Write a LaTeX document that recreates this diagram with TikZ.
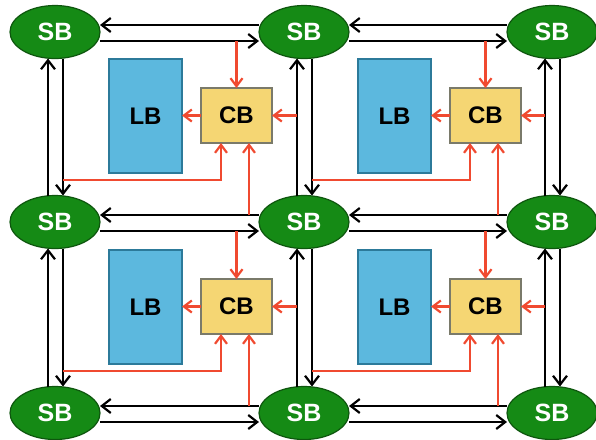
\documentclass[tikz,border=0pt]{standalone}
\usepackage{fontspec}
\setmainfont{Liberation Sans}
\usepackage{xcolor}
\usepackage{tikz}
\usetikzlibrary{arrows.meta,shapes.geometric}
\definecolor{sbgreen}{HTML}{158A15}
\definecolor{sbedge}{HTML}{0E560E}
\definecolor{lbblue}{HTML}{5CB8DE}
\definecolor{lbedge}{HTML}{2C7A9A}
\definecolor{cbyellow}{HTML}{F5D673}
\definecolor{cbedge}{HTML}{7A7A6A}
\definecolor{tapred}{HTML}{F04A30}

\begin{document}
\begin{tikzpicture}[
      x=0.5pt, y=-0.5pt,
      sbnode/.style={ellipse,draw=sbedge,fill=sbgreen,line width=0.6pt,minimum width=45pt,minimum height=26.5pt,inner sep=0pt,outer sep=0pt,text=white,font=\fontsize{12.5}{14}\selectfont\bfseries},
      lbbox/.style={draw=lbedge,fill=lbblue,line width=0.6pt,minimum width=36.5pt,minimum height=57pt,inner sep=0pt,outer sep=0pt,font=\fontsize{12}{14}\selectfont\bfseries},
      cbbox/.style={draw=cbedge,fill=cbyellow,line width=0.6pt,minimum width=35.5pt,minimum height=27.5pt,inner sep=0pt,outer sep=0pt,font=\fontsize{12}{14}\selectfont\bfseries},
      wire/.style={-{Straight Barb[length=4.5pt,width=7pt,line width=1.1pt]}, line width=1.2pt, black},
      tap/.style={-{Straight Barb[length=4pt,width=6pt,line width=1.1pt]}, line width=1.1pt, tapred}
  ]
    \useasboundingbox (0,0) rectangle (596,440);

    % switch boxes
    \node[sbnode] (sb11) at (55,32) {SB};
    \node[sbnode] (sb12) at (304,32) {SB};
    \node[sbnode] (sb13) at (552,32) {SB};
    \node[sbnode] (sb21) at (55,222) {SB};
    \node[sbnode] (sb22) at (304,222) {SB};
    \node[sbnode] (sb23) at (552,222) {SB};
    \node[sbnode] (sb31) at (55,413) {SB};
    \node[sbnode] (sb32) at (304,413) {SB};
    \node[sbnode] (sb33) at (552,413) {SB};

    % logic and connection blocks
    \node[lbbox] (lb1) at (145.5,116) {LB};
    \node[lbbox] (lb2) at (394.5,116) {LB};
    \node[lbbox] (lb3) at (145.5,307) {LB};
    \node[lbbox] (lb4) at (394.5,307) {LB};
    \node[cbbox] (cb1) at (236.5,115.5) {CB};
    \node[cbbox] (cb2) at (485.5,115.5) {CB};
    \node[cbbox] (cb3) at (236.5,306.5) {CB};
    \node[cbbox] (cb4) at (485.5,306.5) {CB};

    % horizontal routing
    \draw[wire] ([yshift=3.5pt]sb12.west) -- ([yshift=3.5pt]sb11.east);
    \draw[wire] ([yshift=-4.5pt]sb11.east) -- ([yshift=-4.5pt]sb12.west);
    \draw[wire] ([yshift=3.5pt]sb13.west) -- ([yshift=3.5pt]sb12.east);
    \draw[wire] ([yshift=-4.5pt]sb12.east) -- ([yshift=-4.5pt]sb13.west);
    \draw[wire] ([yshift=3.5pt]sb22.west) -- ([yshift=3.5pt]sb21.east);
    \draw[wire] ([yshift=-4.5pt]sb21.east) -- ([yshift=-4.5pt]sb22.west);
    \draw[wire] ([yshift=3.5pt]sb23.west) -- ([yshift=3.5pt]sb22.east);
    \draw[wire] ([yshift=-4.5pt]sb22.east) -- ([yshift=-4.5pt]sb23.west);
    \draw[wire] ([yshift=3.5pt]sb32.west) -- ([yshift=3.5pt]sb31.east);
    \draw[wire] ([yshift=-4.5pt]sb31.east) -- ([yshift=-4.5pt]sb32.west);
    \draw[wire] ([yshift=3.5pt]sb33.west) -- ([yshift=3.5pt]sb32.east);
    \draw[wire] ([yshift=-4.5pt]sb32.east) -- ([yshift=-4.5pt]sb33.west);

    % vertical routing
    \draw[wire] ([xshift=-3.5pt]sb21.north) -- ([xshift=-3.5pt]sb11.south);
    \draw[wire] ([xshift=4pt]sb11.south) -- ([xshift=4pt]sb21.north);
    \draw[wire] ([xshift=-3.5pt]sb31.north) -- ([xshift=-3.5pt]sb21.south);
    \draw[wire] ([xshift=4pt]sb21.south) -- ([xshift=4pt]sb31.north);
    \draw[wire] ([xshift=-3.5pt]sb22.north) -- ([xshift=-3.5pt]sb12.south);
    \draw[wire] ([xshift=4pt]sb12.south) -- ([xshift=4pt]sb22.north);
    \draw[wire] ([xshift=-3.5pt]sb32.north) -- ([xshift=-3.5pt]sb22.south);
    \draw[wire] ([xshift=4pt]sb22.south) -- ([xshift=4pt]sb32.north);
    \draw[wire] ([xshift=-3.5pt]sb23.north) -- ([xshift=-3.5pt]sb13.south);
    \draw[wire] ([xshift=4pt]sb13.south) -- ([xshift=4pt]sb23.north);
    \draw[wire] ([xshift=-3.5pt]sb33.north) -- ([xshift=-3.5pt]sb23.south);
    \draw[wire] ([xshift=4pt]sb23.south) -- ([xshift=4pt]sb33.north);

    % taps on the routing wires
    \coordinate (ta1) at (236.5,41);
    \coordinate (tr1) at (297,115.5);
    \coordinate (tl1) at (63,180);
    \coordinate (tb1) at (249,215);
    \coordinate (ta2) at (485.5,41);
    \coordinate (tr2) at (545,115.5);
    \coordinate (tl2) at (312,180);
    \coordinate (tb2) at (498,215);
    \coordinate (ta3) at (236.5,231);
    \coordinate (tr3) at (297,306.5);
    \coordinate (tl3) at (63,371);
    \coordinate (tb3) at (249,406);
    \coordinate (ta4) at (485.5,231);
    \coordinate (tr4) at (545,306.5);
    \coordinate (tl4) at (312,371);
    \coordinate (tb4) at (498,406);

    % connection block links
    \draw[tap] (ta1) -- (cb1.north);
    \draw[tap] (tr1) -- (cb1.east);
    \draw[tap] (cb1.west) -- (cb1.west -| lb1.east);
    \draw[tap] (tl1) -| ([xshift=10pt]cb1.south west);
    \draw[tap] (tb1) -- ([xshift=24pt]cb1.south west);

    \draw[tap] (ta2) -- (cb2.north);
    \draw[tap] (tr2) -- (cb2.east);
    \draw[tap] (cb2.west) -- (cb2.west -| lb2.east);
    \draw[tap] (tl2) -| ([xshift=10pt]cb2.south west);
    \draw[tap] (tb2) -- ([xshift=24pt]cb2.south west);

    \draw[tap] (ta3) -- (cb3.north);
    \draw[tap] (tr3) -- (cb3.east);
    \draw[tap] (cb3.west) -- (cb3.west -| lb3.east);
    \draw[tap] (tl3) -| ([xshift=10pt]cb3.south west);
    \draw[tap] (tb3) -- ([xshift=24pt]cb3.south west);

    \draw[tap] (ta4) -- (cb4.north);
    \draw[tap] (tr4) -- (cb4.east);
    \draw[tap] (cb4.west) -- (cb4.west -| lb4.east);
    \draw[tap] (tl4) -| ([xshift=10pt]cb4.south west);
    \draw[tap] (tb4) -- ([xshift=24pt]cb4.south west);
  \end{tikzpicture}
\end{document}
